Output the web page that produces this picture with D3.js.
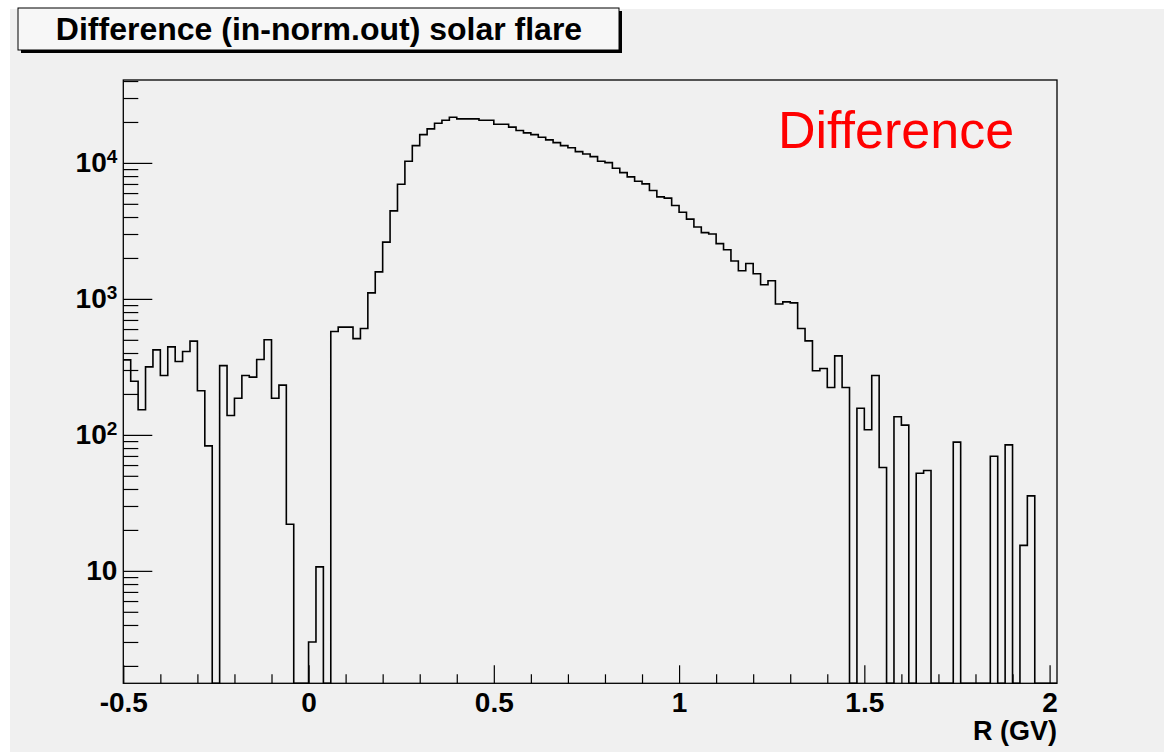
<!DOCTYPE html>
<html>
<head>
<meta charset="utf-8">
<script src="https://cdn.jsdelivr.net/npm/d3@7"></script>
<style>
  body { margin: 0; background: #fff; }
  svg { display: block; font-family: "Liberation Sans", Arial, Helvetica, sans-serif; }
</style>
</head>
<body>
<svg id="chart"></svg>
<script>
// histogram: 126 bins of width 0.02 starting at -0.5
const binLow = -0.5;
const binWidth = 0.02;
const counts = [
  356, 248, 153, 316, 422, 273, 444, 346, 410, 489,
  211, 83, 0, 323, 139, 186, 273, 266, 358, 500,
  186, 232, 22, 0, 0, 3, 10.7, 0, 575, 620,
  620, 510, 605, 1107, 1580, 2614, 4436, 6970, 10280, 13390,
  16130, 17780, 19580, 20590, 21660, 21070, 21070, 21070, 20590, 20590,
  19260, 19260, 18320, 17300, 16630, 16130, 15450, 14760, 14100, 13390,
  12940, 12100, 11640, 11120, 10290, 10040, 9140, 8480, 7890, 7330,
  7010, 6260, 5630, 5510, 4860, 4340, 3860, 3380, 3070, 3000,
  2550, 2300, 1900, 1610, 1820, 1530, 1270, 1360, 918, 950,
  935, 605, 491, 296, 308, 223, 381, 223, 0, 157,
  109, 273, 57.5, 0, 136, 118, 0, 52.2, 54.7, 0,
  0, 0, 88.4, 0, 0, 0, 0, 69.7, 0, 84.4,
  0, 15.4, 35.6, 0, 0, 0
];

const xTickValues = [-0.5, 0, 0.5, 1, 1.5, 2];
const xMinorTicks = [-0.4, -0.3, -0.2, -0.1, 0.1, 0.2, 0.3, 0.4, 0.6, 0.7, 0.8, 0.9,
                     1.1, 1.2, 1.3, 1.4, 1.6, 1.7, 1.8, 1.9];
const yTickValues = [10, 100, 1000, 10000];
const yTickExponents = ["", "2", "3", "4"];
const titleText = "Difference (in-norm.out) solar flare";
const legendText = "Difference";
const xTitle = "R (GV)";

const W = 1164, H = 752;
const frame = { left: 123.3, right: 1057, top: 80, bottom: 683.3 };

const svg = d3.select("#chart")
  .attr("width", W)
  .attr("height", H);

// canvas background
svg.append("rect")
  .attr("x", 10).attr("y", 9)
  .attr("width", W - 10).attr("height", H - 9)
  .attr("fill", "#f0f0f0");

// scales
const xScale = d3.scaleLinear()
  .domain([-0.5, 2.02])
  .range([frame.left, frame.right]);

const yMin = 1.49;
const yScale = d3.scaleLog()
  .domain([yMin, 40700])
  .range([frame.bottom, frame.top]);

// build bins from counts
const bins = counts.map((v, i) => ({ x0: binLow + i * binWidth, v: v }));
const lastBin = bins[bins.length - 1];
const stepPoints = bins.map(b => [b.x0, Math.max(b.v, yMin)]);
stepPoints.push([lastBin.x0 + binWidth, Math.max(lastBin.v, yMin)]);

// y axis: major ticks with labels
const yAxis = svg.append("g")
  .attr("transform", `translate(${frame.left},0)`)
  .call(d3.axisLeft(yScale)
    .tickValues(yTickValues)
    .tickSize(-29)
    .tickPadding(6)
    .tickFormat(() => ""));

yAxis.selectAll(".tick text").each(function (d, i) {
  const t = d3.select(this)
    .attr("font-size", 28)
    .attr("font-weight", "bold")
    .attr("fill", "#000");
  t.append("tspan").text("10");
  if (yTickExponents[i]) {
    t.append("tspan")
      .attr("dy", "-0.5em")
      .attr("font-size", 19)
      .text(yTickExponents[i]);
  }
});

// y minor ticks
const yMinor = [];
[1, 10, 100, 1000, 10000].forEach(dec => {
  for (let k = 2; k <= 9; k++) {
    const v = dec * k;
    if (v > yMin && v < 40700) yMinor.push(v);
  }
});
svg.append("g")
  .attr("transform", `translate(${frame.left},0)`)
  .call(d3.axisLeft(yScale)
    .tickValues(yMinor)
    .tickSize(-15)
    .tickFormat(() => ""));

// x axis
const xAxis = svg.append("g")
  .attr("transform", `translate(0,${frame.bottom})`)
  .call(d3.axisBottom(xScale)
    .tickValues(xTickValues)
    .tickSize(-18)
    .tickPadding(9)
    .tickFormat(d => String(d)));

xAxis.selectAll(".tick text")
  .attr("font-size", 28)
  .attr("font-weight", "bold")
  .attr("fill", "#000");

svg.append("g")
  .attr("transform", `translate(0,${frame.bottom})`)
  .call(d3.axisBottom(xScale)
    .tickValues(xMinorTicks)
    .tickSize(-9)
    .tickFormat(() => ""));

svg.selectAll(".domain").remove();
svg.selectAll(".tick line").attr("stroke", "#000").attr("stroke-width", 1.2);

// histogram outline
const line = d3.line()
  .x(d => xScale(d[0]))
  .y(d => yScale(d[1]))
  .curve(d3.curveStepAfter);

svg.append("path")
  .datum(stepPoints)
  .attr("d", line)
  .attr("fill", "none")
  .attr("stroke", "#000")
  .attr("stroke-width", 1.6);

// frame
svg.append("rect")
  .attr("x", frame.left)
  .attr("y", frame.top)
  .attr("width", frame.right - frame.left)
  .attr("height", frame.bottom - frame.top)
  .attr("fill", "none")
  .attr("stroke", "#000")
  .attr("stroke-width", 1.3);

// x title
svg.append("text")
  .attr("x", frame.right)
  .attr("y", 740)
  .attr("text-anchor", "end")
  .attr("font-size", 27)
  .attr("font-weight", "bold")
  .text(xTitle);

// legend text
svg.append("text")
  .attr("x", 778)
  .attr("y", 148)
  .attr("font-size", 52)
  .attr("fill", "#ff0000")
  .text(legendText);

// title box with shadow
svg.append("rect")
  .attr("x", 21).attr("y", 11)
  .attr("width", 601).attr("height", 42)
  .attr("fill", "#000");
svg.append("rect")
  .attr("x", 18).attr("y", 8)
  .attr("width", 601).attr("height", 42)
  .attr("fill", "#f7f7f7")
  .attr("stroke", "#000")
  .attr("stroke-width", 1);
svg.append("text")
  .attr("x", 319)
  .attr("y", 40)
  .attr("text-anchor", "middle")
  .attr("font-size", 32)
  .attr("font-weight", "bold")
  .text(titleText);
</script>
</body>
</html>
